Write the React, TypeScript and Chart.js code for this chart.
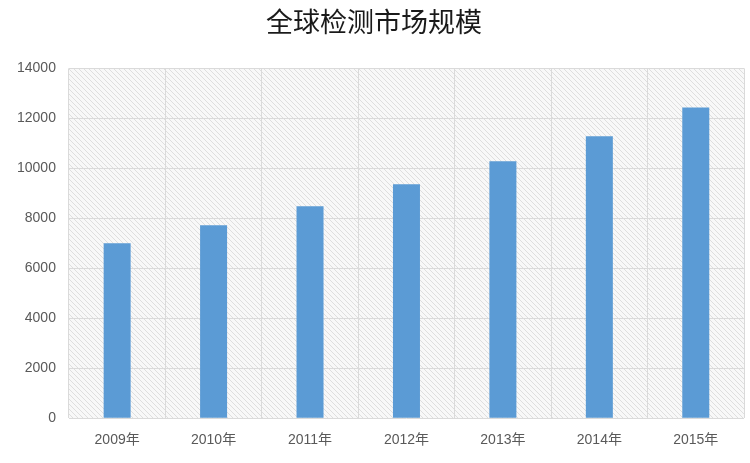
import React, { useEffect, useRef } from "react";
import { Chart, registerables } from "chart.js";

Chart.register(...registerables);

const title = "全球检测市场规模";
const categories = ["2009年", "2010年", "2011年", "2012年", "2013年", "2014年", "2015年"];
const values = [7000, 7720, 8480, 9360, 10280, 11280, 12440];
const yTicks = [0, 2000, 4000, 6000, 8000, 10000, 12000, 14000];

function makePattern(ctx: CanvasRenderingContext2D) {
  const c = document.createElement("canvas");
  c.width = 5;
  c.height = 5;
  const p = c.getContext("2d")!;
  p.fillStyle = "#f8f8f8";
  p.fillRect(0, 0, 5, 5);
  p.strokeStyle = "#dedede";
  p.lineWidth = 1;
  p.beginPath();
  p.moveTo(-1, -1);
  p.lineTo(6, 6);
  p.moveTo(-1, 4);
  p.lineTo(1, 6);
  p.moveTo(4, -1);
  p.lineTo(6, 1);
  p.stroke();
  return ctx.createPattern(c, "repeat");
}

const bgPlugin = {
  id: "hatchBg",
  beforeDraw(chart: any) {
    const { ctx, chartArea } = chart;
    if (!chartArea) return;
    const pat = makePattern(ctx);
    ctx.save();
    ctx.fillStyle = pat || "#f2f2f2";
    ctx.fillRect(chartArea.left, chartArea.top, chartArea.right - chartArea.left, chartArea.bottom - chartArea.top);
    ctx.restore();
  },
};

const tickFont = "'Liberation Sans Narrow', 'Liberation Sans', 'Noto Sans CJK SC'";

export default function App() {
  const ref = useRef<HTMLCanvasElement>(null);
  useEffect(() => {
    if (!ref.current) return;
    const chart = new Chart(ref.current, {
      type: "bar",
      data: {
        labels: categories,
        datasets: [
          {
            data: values,
            backgroundColor: "#5b9bd5",
            borderWidth: 0,
            barPercentage: 0.28,
            categoryPercentage: 1,
          },
        ],
      },
      options: {
        animation: false,
        responsive: false,
        layout: { padding: { left: 4, right: 6, top: 0, bottom: 0 } },
        plugins: {
          legend: { display: false },
          tooltip: { enabled: false },
          title: {
            display: true,
            text: title,
            color: "#1a1a1a",
            font: { family: "'Noto Sans CJK SC'", size: 27, weight: "normal" },
            padding: { top: 6, bottom: 30 },
          },
        },
        scales: {
          x: {
            grid: { display: true, color: "#dadada", drawTicks: false, offset: true },
            border: { display: false },
            ticks: {
              color: "#595959",
              font: { family: tickFont, size: 14 },
              padding: 14,
            },
          },
          y: {
            min: 0,
            max: 14000,
            afterBuildTicks: (axis: any) => {
              axis.ticks = yTicks.map((v) => ({ value: v }));
            },
            grid: { color: "#dadada", drawTicks: false },
            border: { display: false },
            ticks: {
              color: "#595959",
              font: { family: tickFont, size: 14 },
              padding: 13,
              callback: (v: any) => String(v),
            },
          },
        },
      },
      plugins: [bgPlugin],
    });
    return () => chart.destroy();
  }, []);
  return (
    <div style={{ position: "fixed", left: 0, top: 0, width: 750, height: 463, background: "#fff" }}>
      <canvas ref={ref} width={750} height={463} />
    </div>
  );
}
